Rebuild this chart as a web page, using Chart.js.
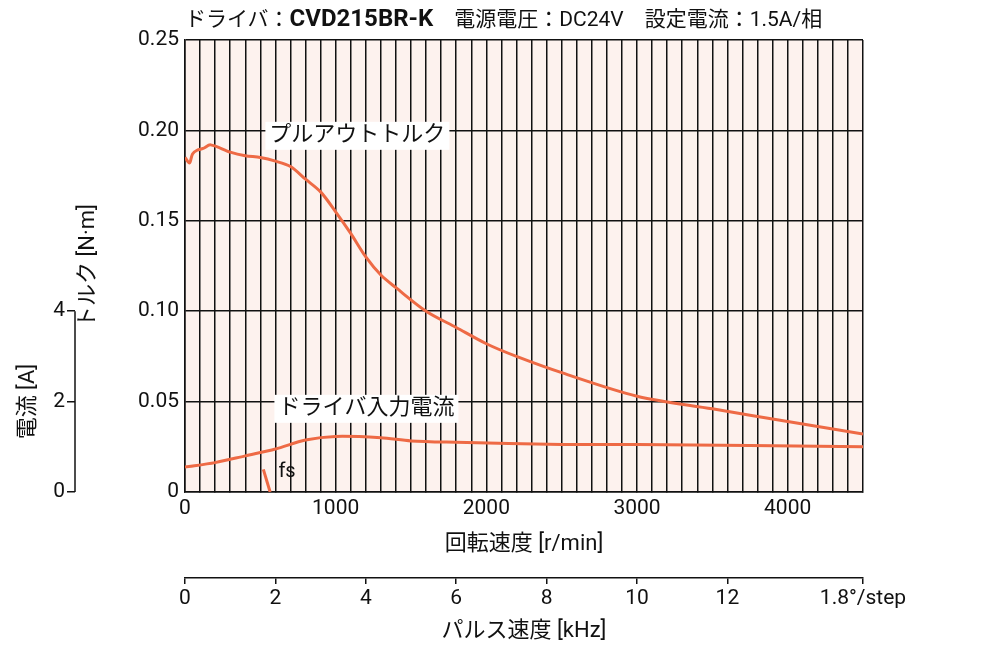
<!DOCTYPE html>
<html><head><meta charset="utf-8">
<script src="https://cdn.jsdelivr.net/npm/chart.js@4"></script>
<style>
body{margin:0;background:#fff;font-family:Roboto,"Noto Sans CJK JP",sans-serif;}
#wrap{position:relative;width:1000px;height:650px;}
#hdr{position:absolute;left:185px;top:2px;font-size:21px;color:#111;white-space:nowrap;font-family:Roboto,"Noto Sans CJK JP";}
#hdr b{font-size:24px;}
</style></head><body>
<div id="wrap"><canvas id="c" width="1000" height="650"></canvas>
<div id="hdr">ドライバ：<b>CVD215BR-K</b>　電源電圧：DC24V　設定電流：1.5A/相</div></div>
<script>
const torqueRpm=[0,30,50,80,120,170,300,400,500,600,700,800,900,1000,1100,1200,1300,1400,1600,1800,2000,2200,2500,3000,3500,4000,4500];
const torqueVal=[0.185,0.182,0.187,0.189,0.19,0.192,0.188,0.186,0.185,0.183,0.18,0.173,0.166,0.155,0.143,0.13,0.12,0.113,0.1,0.091,0.082,0.075,0.066,0.053,0.046,0.039,0.032];
const currentRpm=[0,200,400,600,800,1000,1300,1500,1800,2500,3000,4500];
const currentVal=[0.55,0.65,0.8,0.95,1.15,1.23,1.2,1.13,1.1,1.05,1.05,1.0];
const fsRpm=[520,565];
const fsCur=[0.5,0];
const torqueTicks=[0,0.05,0.10,0.15,0.20,0.25];
const currentTicks=[0,2,4];
const pulseTicks=[0,2,4,6,8,10,12,15];
const C='#ee6a45';
const F="Roboto,'Noto Sans CJK JP'";
const plugin={id:'deco',
beforeDraw(ch){const a=ch.chartArea,x=ch.ctx;x.save();x.fillStyle='#fdf2ee';x.fillRect(a.left,a.top,a.right-a.left,a.bottom-a.top);x.restore();},
afterDatasetsDraw(ch){const x=ch.ctx,sx=ch.scales.x,sy=ch.scales.y,s2=ch.scales.y2;x.save();
x.font="22px "+F;x.textBaseline='middle';
const lab=(t,r,v)=>{const px=sx.getPixelForValue(r),py=sy.getPixelForValue(v);const w=x.measureText(t).width;x.fillStyle='#fff';x.fillRect(px-4,py-14,w+8,28);x.fillStyle='#111';x.fillText(t,px,py);};
lab('プルアウトトルク',560,0.197);lab('ドライバ入力電流',620,0.046);
x.font="20px "+F;x.fillStyle='#111';x.fillText('fs',sx.getPixelForValue(620),s2.getPixelForValue(0.45));
const lx=s2.right;x.strokeStyle='#111';x.lineWidth=1.5;x.beginPath();x.moveTo(lx,s2.getPixelForValue(0));x.lineTo(lx,s2.getPixelForValue(4));x.stroke();
x.translate(28,s2.getPixelForValue(2));x.rotate(-Math.PI/2);x.textAlign='center';x.font="22px "+F;x.fillText('電流 [A]',0,0);
x.restore();}};
new Chart(document.getElementById('c'),{type:'scatter',
data:{datasets:[
{data:torqueRpm.map((r,i)=>({x:r,y:torqueVal[i]})),yAxisID:'y'},
{data:currentRpm.map((r,i)=>({x:r,y:currentVal[i]})),yAxisID:'y2'},
{data:fsRpm.map((r,i)=>({x:r,y:fsCur[i]})),yAxisID:'y2'}]},
plugins:[plugin],
options:{responsive:false,animation:false,showLine:true,
elements:{point:{radius:0},line:{borderColor:C,borderWidth:3,tension:0.3}},
layout:{padding:{top:40,right:137,bottom:5}},
plugins:{legend:{display:false},tooltip:{enabled:false}},
scales:{
x:{type:'linear',min:0,max:4500,afterFit:s=>{s.height=86;},
 afterBuildTicks:s=>{const t=[];for(let v=0;v<=4500;v+=100)t.push({value:v});s.ticks=t;},
 ticks:{autoSkip:false,maxRotation:0,color:'#111',font:{size:21,family:F},padding:4,callback:v=>v%1000===0?String(v):''},
 grid:{color:'#111',lineWidth:1.5,tickLength:0},border:{color:'#111',width:1.5},
 title:{display:true,text:'回転速度 [r/min]',color:'#111',font:{size:22,family:F},padding:{top:0,bottom:20}}},
x2:{type:'linear',position:'bottom',min:0,max:15,afterFit:s=>{s.height=67;},
 afterBuildTicks:s=>{s.ticks=pulseTicks.map(v=>({value:v}));},
 ticks:{autoSkip:false,maxRotation:0,color:'#111',font:{size:21,family:F},padding:2,callback:v=>v===15?'1.8°/step':String(v)},
 grid:{drawOnChartArea:false,color:'#111',tickLength:6,lineWidth:1.5},border:{color:'#111',width:1.5},
 title:{display:true,text:'パルス速度 [kHz]',color:'#111',font:{size:22,family:F},padding:{top:0,bottom:0}}},
y:{type:'linear',position:'left',min:0,max:0.25,afterFit:s=>{s.width=110;},
 afterBuildTicks:s=>{s.ticks=torqueTicks.map(v=>({value:v}));},
 ticks:{color:'#111',font:{size:21,family:F},padding:6,callback:v=>v===0?'0':v.toFixed(2)},
 grid:{color:'#111',lineWidth:1.5,tickLength:0},border:{color:'#111',width:1.5},
 title:{display:true,text:'トルク [N·m]',color:'#111',font:{size:22,family:F},padding:{top:0,bottom:0}}},
y2:{type:'linear',position:'left',min:0,max:10,afterFit:s=>{s.width=75;},
 afterBuildTicks:s=>{s.ticks=currentTicks.map(v=>({value:v}));},
 ticks:{color:'#111',font:{size:21,family:F},padding:2},
 grid:{drawOnChartArea:false,color:'#111',tickLength:8,lineWidth:1.5},border:{display:false},
 title:{display:false}}
}}});
</script></body></html>
